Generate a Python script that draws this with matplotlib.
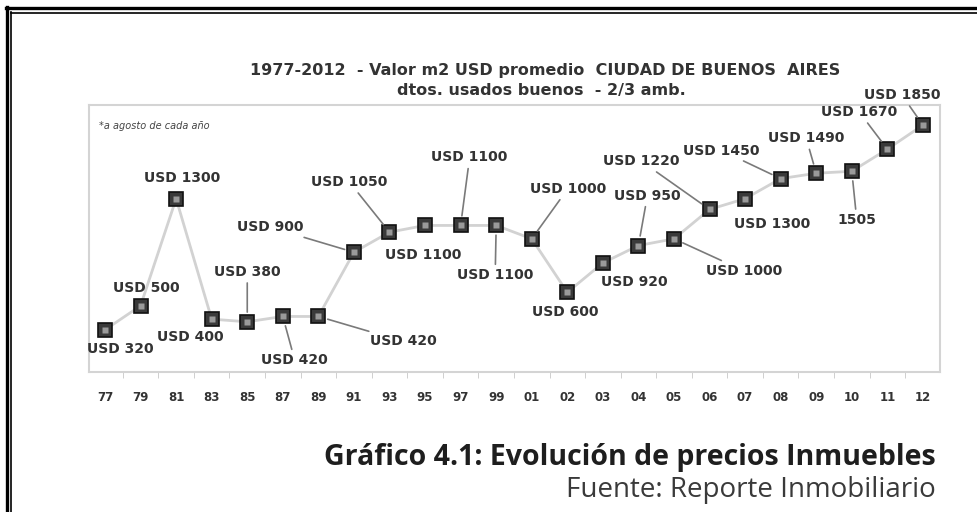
import matplotlib
matplotlib.use('Agg')
import matplotlib.pyplot as plt
from matplotlib.lines import Line2D
import numpy as np

# data (m2 value, USD)
years = ['77', '79', '81', '83', '85', '87', '89', '91', '93', '95', '97', '99',
         '01', '02', '03', '04', '05', '06', '07', '08', '09', '10', '11', '12']
values = [320, 500, 1300, 400, 380, 420, 420, 900, 1050, 1100, 1100, 1100,
          1000, 600, 820, 950, 1000, 1220, 1300, 1450, 1490, 1505, 1670, 1850]
labels = ['USD 320', 'USD 500', 'USD 1300', 'USD 400', 'USD 380', 'USD 420',
          'USD 420', 'USD 900', 'USD 1050', 'USD 1100', 'USD 1100', 'USD 1100',
          'USD 1000', 'USD 600', 'USD 920', 'USD 950', 'USD 1000', 'USD 1220',
          'USD 1300', 'USD 1450', 'USD 1490', '1505', 'USD 1670', 'USD 1850']

# label placement (offset in pixels from the point) and whether a leader line is drawn
offsets = [(15, -19), (6, 18), (6, 21), (-21, -18), (0, 50), (12, -44),
           (85, -25), (-84, 25), (-40, 50), (-2, -30), (9, 68), (-1, -50),
           (36, 50), (-2, -20), (31, -19), (9, 50), (70, -32), (-68, 48),
           (27, -25), (-59, 28), (-10, 35), (5, -49), (-28, 37), (-21, 30)]
leaders = [0, 0, 0, 0, 1, 1, 1, 1, 1, 0, 1, 1,
           1, 0, 0, 1, 1, 1, 0, 1, 1, 1, 1, 1]

fig = plt.figure(figsize=(9.78, 5.12), dpi=100)
ax = fig.add_axes([89 / 978, 1 - 372 / 512, (940 - 89) / 978, (372 - 105) / 512])

x = np.arange(len(years))
ax.plot(x, values, color='#d2d2d2', lw=2, zorder=1)
ax.plot(x, values, ls='none', marker='s', markersize=10, markerfacecolor='#3a3a3a',
        markeredgecolor='#111111', markeredgewidth=1.2, zorder=3)
ax.plot(x, values, ls='none', marker='s', markersize=4.5, markerfacecolor='#9a9a9a',
        markeredgecolor='none', zorder=4)

for i in range(len(years)):
    props = None
    if leaders[i]:
        props = dict(arrowstyle='-', color='#7a7a7a', lw=1.2, shrinkA=1, shrinkB=7)
    ax.annotate(labels[i], (x[i], values[i]), xytext=offsets[i], textcoords='offset pixels',
                ha='center', va='center', fontsize=10, fontweight='bold', color='#333333',
                arrowprops=props, zorder=5)

ax.set_xlim(-0.45, 23.48)
ax.set_ylim(5, 2000)
ax.set_yticks([])
ax.set_xticks(x)
ax.set_xticklabels(years, fontsize=8.5, fontweight='bold', color='#333333')
ax.tick_params(axis='x', length=0, pad=14)
ax.set_xticks(x[:-1] + 0.5, minor=True)
ax.tick_params(axis='x', which='minor', length=4, color='#c8c8c8')
for s in ax.spines.values():
    s.set_color('#d4d4d4')
    s.set_linewidth(1.5)

ax.text(0.012, 0.92, '*a agosto de cada año', transform=ax.transAxes, fontsize=7,
        style='italic', color='#444444', ha='left', va='center')

fig.text(545 / 978, 1 - 71 / 512, '1977-2012  - Valor m2 USD promedio  CIUDAD DE BUENOS  AIRES',
         ha='center', va='center', fontsize=11.5, fontweight='bold', color='#333333')
fig.text(541 / 978, 1 - 90 / 512, 'dtos. usados buenos  - 2/3 amb.',
         ha='center', va='center', fontsize=11.5, fontweight='bold', color='#333333')

fig.text(936 / 978, 1 - 457 / 512, 'Gráfico 4.1: Evolución de precios Inmuebles',
         ha='right', va='center', fontsize=20.5, fontweight='bold', family='Open Sans', color='#1e1e1e')
fig.text(936 / 978, 1 - 490 / 512, 'Fuente: Reporte Inmobiliario',
         ha='right', va='center', fontsize=20, family='Open Sans', color='#3a3a3a')

# double page border (top and left)
W, H = 978, 512
fig.add_artist(Line2D([6 / W, 1], [1 - 8 / H, 1 - 8 / H], color='black', lw=2.4))
fig.add_artist(Line2D([11 / W, 1], [1 - 12.5 / H, 1 - 12.5 / H], color='black', lw=1.2))
fig.add_artist(Line2D([7 / W, 7 / W], [0, 1 - 7 / H], color='black', lw=2.4))
fig.add_artist(Line2D([11.5 / W, 11.5 / W], [0, 1 - 12 / H], color='black', lw=1.2))

fig.savefig('out.png', dpi=100, facecolor='white')
